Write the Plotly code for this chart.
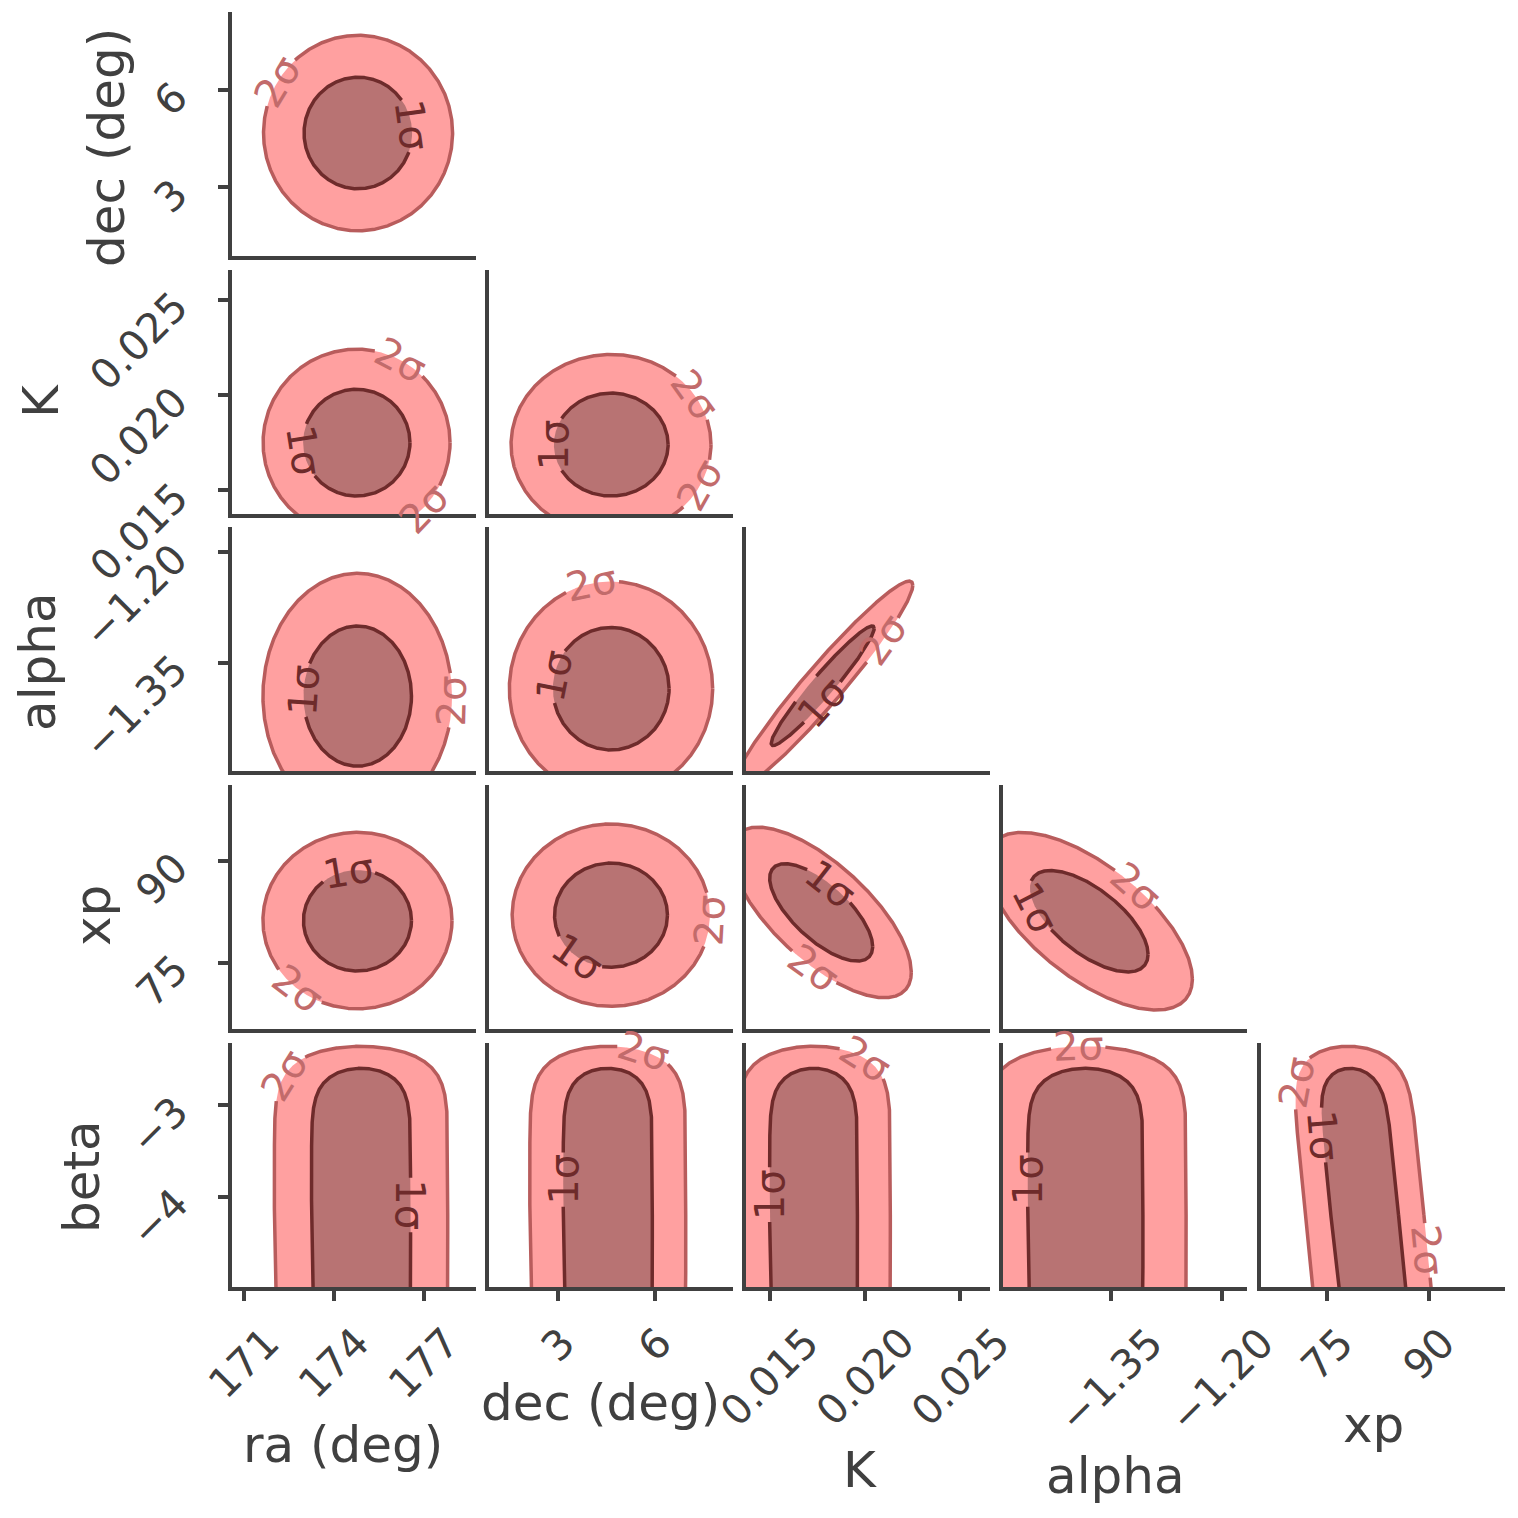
import numpy as np
import plotly.graph_objects as go

# page is shown with an 8 px body margin -> figure is 1510 and coordinates shift by 8
OFF = 8
FW = FH = 1510

# ---------------- data ----------------
PARAM_LABELS = ["ra (deg)", "dec (deg)", "K", "alpha", "xp", "beta"]
RANGES = [[170.6, 178.73], [0.87, 8.43], [0.01376, 0.02655],
          [-1.4965, -1.166], [65.18, 101.23], [-4.985, -2.324]]
TICKVALS = [[171, 174, 177], [3, 6], [0.015, 0.020, 0.025],
            [-1.35, -1.20], [75, 90], [-3, -4]]
TICKTEXT = [["171", "174", "177"], ["3", "6"], ["0.015", "0.020", "0.025"],
            ["−1.35", "−1.20"], ["75", "90"], ["−3", "−4"]]

# panels of the corner plot: x parameter index, y parameter index
PANEL_X = [0, 0, 1, 0, 1, 2, 0, 1, 2, 3, 0, 1, 2, 3, 4]
PANEL_Y = [1, 2, 2, 3, 3, 3, 4, 4, 4, 4, 5, 5, 5, 5, 5]
# contour centre, 1-sigma half widths, correlation, shear (beta panels)
CX = [174.8, 174.75, 4.65, 174.78, 4.65, 0.01778, 174.78, 4.65, 0.0177, -1.38,
      174.9, 4.55, 0.0173, -1.385, 80.5]
CY = [4.68, 0.0175, 0.0174, -1.395, -1.385, -1.381, 81.2, 82.0, 82.4, 81.1,
      -4.2, -4.2, -4.2, -4.2, -4.2]
WX = [1.8, 1.78, 1.77, 1.8, 1.8, 0.0027, 1.8, 1.75, 0.0027, 0.08,
      1.65, 1.38, 0.0023, 0.078, 5.0]
WY = [1.73, 0.0028, 0.0027, 0.095, 0.083, 0.081, 7.45, 7.7, 7.2, 7.5,
      1.6, 1.6, 1.6, 1.6, 1.6]
RHO = [0.0, 0.0, 0.0, 0.0, 0.0, 0.96, 0.0, 0.0, -0.7, -0.65,
       0.0, 0.0, 0.0, 0.0, 0.0]
SHEAR = [0, 0, 0, 0, 0, 0, 0, 0, 0, 0, 0, 0, 0, 0, -1.35]
FLAT_Y = [False] * 10 + [True] * 5   # beta is flat (prior-limited)
SIGMA_LEVELS = [1.0, 1.75]

# contour labels: panel, level index (0 -> 1σ, 1 -> 2σ), position angle on contour
LABEL_PANEL = [0, 0, 1, 1, 1, 2, 2, 2, 3, 3, 4, 4, 5, 5, 6, 6, 7, 7, 8, 8, 9, 9,
               10, 10, 11, 11, 12, 12, 13, 13, 14, 14, 14]
LABEL_LEVEL = [1, 0, 1, 0, 1, 0, 1, 1, 0, 1, 1, 0, 0, 1, 0, 1, 1, 0, 0, 1, 0, 1,
               1, 0, 1, 0, 1, 0, 1, 0, 1, 0, 1]
LABEL_T = [148, 8, 62, 189, 316, 180, 33, 333, 175, 358, 101, 168, 270, 312,
           100, 231, 357, 233, 80, 265, 205, 63,
           124, 4, 76, 166, 68, 172, 92, 166, 128, 147, -12]
LABEL_TEXT = ["1σ", "2σ"]

# ---------------- styling ----------------
FONT = "DejaVu Sans"
INK = "#404040"
FILL_COLORS = ["#B87373", "#FFA0A0"]
LINE_COLORS = ["#6E2B2B", "#B85C5C"]
TEXT_COLORS = ["#6E2B2B", "#C26B6B"]
TICK_FONT = 41
TITLE_FONT = 50
CLABEL_FONT = 40
COL_LEFT = [232, 489, 746, 1003, 1261]     # page px
ROW_TOP = [12, 270, 527, 785, 1043]
SIZE = 244


def fx(p):
    return (p - OFF) / FW


def fy(p):
    return 1 - (p - OFF) / FH


def contour_xy(i, r, t_deg):
    t = np.radians(np.asarray(t_deg, dtype=float))
    if FLAT_Y[i]:
        s = np.sin(t)
        uy = r ** 0.25 * s
        ux = r * np.sqrt(np.clip(1 - s ** 8, 0, None)) * np.sign(np.cos(t))
        y = CY[i] + WY[i] * uy
        x = CX[i] + WX[i] * ux + SHEAR[i] * (y - CY[i])
    else:
        rho = RHO[i]
        ux = r * np.cos(t)
        uy = r * (rho * np.cos(t) + np.sqrt(1 - rho ** 2) * np.sin(t))
        x = CX[i] + WX[i] * ux
        y = CY[i] + WY[i] * uy
    return x, y


def scales(i):
    sx = SIZE / (RANGES[PANEL_X[i]][1] - RANGES[PANEL_X[i]][0])
    sy = SIZE / (RANGES[PANEL_Y[i]][1] - RANGES[PANEL_Y[i]][0])
    return sx, sy


fig = go.Figure()
layout = {}
annotations = []
line_traces = []

for i in range(len(PANEL_X)):
    k = i + 1
    px, py = PANEL_X[i], PANEL_Y[i]
    col, row = px, py - 1
    xname = "xaxis" if k == 1 else f"xaxis{k}"
    yname = "yaxis" if k == 1 else f"yaxis{k}"
    xr = f"x{k}" if k > 1 else "x"
    yr = f"y{k}" if k > 1 else "y"
    bottom = (row == 4)
    left = (col == 0)
    layout[xname] = dict(domain=[fx(COL_LEFT[col]), fx(COL_LEFT[col] + SIZE)],
                         anchor=yr, range=RANGES[px],
                         showgrid=False, zeroline=False, showline=True,
                         linecolor=INK, linewidth=3.5,
                         ticks="outside" if bottom else "", ticklen=10,
                         tickwidth=3.5, tickcolor=INK,
                         tickvals=TICKVALS[px], showticklabels=False,
                         fixedrange=True)
    layout[yname] = dict(domain=[fy(ROW_TOP[row] + SIZE), fy(ROW_TOP[row])],
                         anchor=xr, range=RANGES[py],
                         showgrid=False, zeroline=False, showline=True,
                         linecolor=INK, linewidth=3.5,
                         ticks="outside" if left else "", ticklen=10,
                         tickwidth=3.5, tickcolor=INK,
                         tickvals=TICKVALS[py], showticklabels=False,
                         fixedrange=True)

    sx, sy = scales(i)
    tt = np.linspace(0, 360, 1441)
    # fills
    for lev in [1, 0]:
        x, y = contour_xy(i, SIGMA_LEVELS[lev], tt)
        fig.add_trace(go.Scatter(
            x=x, y=y, xaxis=xr, yaxis=yr, mode="lines", fill="toself",
            fillcolor=FILL_COLORS[lev], line=dict(width=0),
            hoverinfo="skip", showlegend=False))
    # lines, broken where the inline labels sit
    for lev in [1, 0]:
        x, y = contour_xy(i, SIGMA_LEVELS[lev], tt)
        x = x.copy()
        y = y.copy()
        for p, lv, t in zip(LABEL_PANEL, LABEL_LEVEL, LABEL_T):
            if p == i and lv == lev:
                xa, ya = contour_xy(i, SIGMA_LEVELS[lev], t)
                d = np.hypot((x - xa) * sx, (y - ya) * sy)
                x[d < 27] = np.nan
                y[d < 27] = np.nan
        line_traces.append(go.Scatter(
            x=x, y=y, xaxis=xr, yaxis=yr, mode="lines",
            line=dict(color=LINE_COLORS[lev], width=3.5),
            connectgaps=False, hoverinfo="skip", showlegend=False))

    # tick labels (matplotlib-like placement)
    if bottom:
        for v, s in zip(TICKVALS[px], TICKTEXT[px]):
            annotations.append(dict(
                x=v, xref=xr, y=fy(1316), yref="paper", text=s,
                showarrow=False, textangle=-45, xanchor="center",
                yanchor="top", font=dict(family=FONT, size=TICK_FONT, color=INK)))
    if left:
        for v, s in zip(TICKVALS[py], TICKTEXT[py]):
            annotations.append(dict(
                x=fx(200), xref="paper", y=v, yref=yr, yshift=20, text=s,
                showarrow=False, textangle=-45, xanchor="right",
                yanchor="top", font=dict(family=FONT, size=TICK_FONT, color=INK)))

for tr in line_traces:
    fig.add_trace(tr)

# contour labels
for p, lev, t in zip(LABEL_PANEL, LABEL_LEVEL, LABEL_T):
    k = p + 1
    xr = f"x{k}" if k > 1 else "x"
    yr = f"y{k}" if k > 1 else "y"
    r = SIGMA_LEVELS[lev]
    xa, ya = contour_xy(p, r, t)
    xb, yb = contour_xy(p, r, t - 0.5)
    xc, yc = contour_xy(p, r, t + 0.5)
    sx, sy = scales(p)
    ang = np.degrees(np.arctan2((yc - yb) * sy, (xc - xb) * sx))
    while ang > 90:
        ang -= 180
    while ang <= -90:
        ang += 180
    annotations.append(dict(
        x=float(xa), xref=xr, y=float(ya), yref=yr, text=LABEL_TEXT[lev],
        showarrow=False, textangle=float(-ang), xanchor="center",
        yanchor="middle",
        font=dict(family=FONT, size=CLABEL_FONT, color=TEXT_COLORS[lev])))

# axis titles (page px of the centre of each title)
XT_POS = [(343, 1445), (600, 1403), (860, 1470), (1115, 1476), (1373, 1425)]
for j, (cx, cy) in enumerate(XT_POS):
    annotations.append(dict(
        x=fx(cx), y=fy(cy), xref="paper", yref="paper",
        text=PARAM_LABELS[j], showarrow=False, xanchor="center",
        yanchor="middle", font=dict(family=FONT, size=TITLE_FONT, color=INK)))
YT_POS = [(107, 147), (41, 401), (38, 662), (93, 916), (82, 1177)]
for j, (cx, cy) in enumerate(YT_POS):
    annotations.append(dict(
        x=fx(cx), y=fy(cy), xref="paper", yref="paper",
        text=PARAM_LABELS[j + 1], showarrow=False, textangle=-90,
        xanchor="center", yanchor="middle",
        font=dict(family=FONT, size=TITLE_FONT, color=INK)))

fig.update_layout(
    width=FW, height=FH, margin=dict(l=0, r=0, t=0, b=0),
    paper_bgcolor="white", plot_bgcolor="white",
    font=dict(family=FONT, color=INK), showlegend=False,
    annotations=annotations, **layout)

fig.write_html("out.html")
